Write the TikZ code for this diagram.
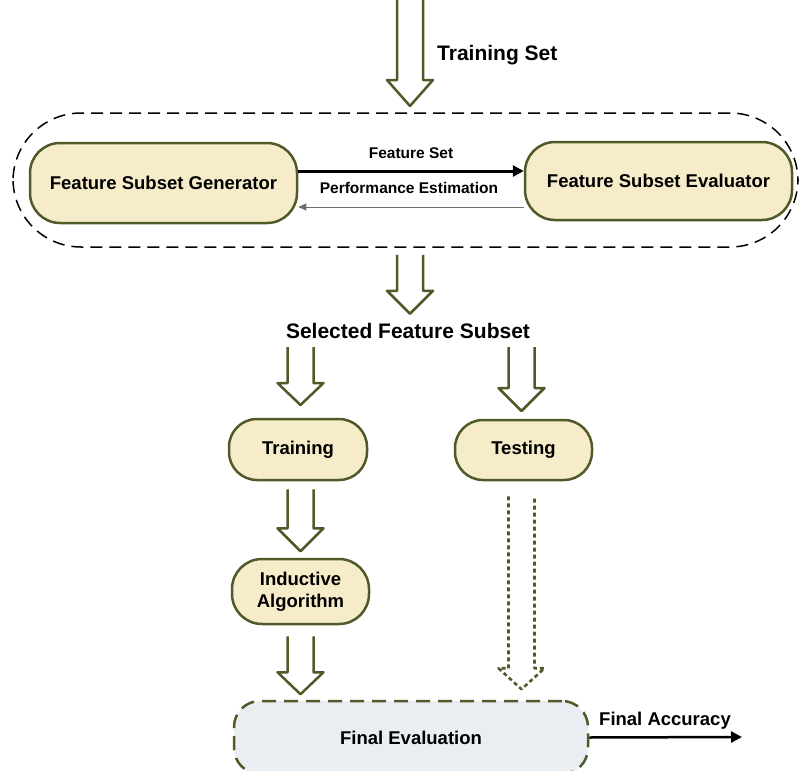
\documentclass[tikz,border=0pt]{standalone}
\usepackage{fontspec}
\setmainfont{Liberation Sans}
\usetikzlibrary{calc,arrows.meta}
\definecolor{oliveline}{HTML}{505A28}
\definecolor{boxfill}{HTML}{F7ECC9}
\definecolor{evalfill}{HTML}{E9EEF3}
\definecolor{perfgray}{HTML}{6E6E6E}
\tikzset{
  box/.style={draw=oliveline, line width=2.5pt, fill=boxfill, rounded corners=#1,
    font=\fontsize{18.5}{22}\selectfont\bfseries, align=center, inner sep=0pt},
  box/.default=30pt,
  container/.style={draw=black, line width=1.5pt, dash pattern=on 12pt off 7pt, rounded corners=68pt, inner sep=0pt},
  evalbox/.style={draw=oliveline, line width=2.5pt, fill=evalfill, dash pattern=on 14pt off 8pt,
    rounded corners=26pt, font=\fontsize{18.5}{22}\selectfont\bfseries, inner sep=0pt},
  biglabel/.style={font=\fontsize{21}{24}\selectfont\bfseries, inner sep=0pt},
  smalllabel/.style={font=\fontsize{15.5}{18}\selectfont\bfseries, inner sep=0pt},
  midlabel/.style={font=\fontsize{18.5}{22}\selectfont\bfseries, inner sep=0pt},
  harrowline/.style={draw=oliveline, line width=2.5pt, line join=round},
  hdotline/.style={draw=oliveline, line width=2.6pt, line join=round, dash pattern=on 4pt off 3pt},
  pics/harrow/.style n args={3}{code={
    \draw[#3] (-13,0) -- (-13,#1) -- (-23,#1) -- (0,#2) -- (23,#1) -- (13,#1) -- (13,0);
  }},
}
\begin{document}
\begin{tikzpicture}[x=1pt,y=-1pt]
\useasboundingbox (0,0) rectangle (801,771);
\clip (0,0) rectangle (801,771);

% container and feature subset nodes
\node[container, minimum width=785pt, minimum height=134pt] (cont) at (405.5,180) {};
\node[box, minimum width=267pt, minimum height=80pt] (fsg) at (163.5,183) {Feature Subset Generator};
\node[box, minimum width=267pt, minimum height=78pt] (fse) at (658.5,181) {Feature Subset Evaluator};

\coordinate (fsy) at (0,171);
\coordinate (pey) at (0,207);
\draw[line width=3pt, -{Triangle[length=11pt,width=11pt]}] (fsg.east |- fsy) -- (fse.west |- fsy);
\draw[perfgray, line width=1pt, -{Triangle[length=8pt,width=7pt]}] (fse.west |- pey) -- (fsg.east |- pey);
\node[smalllabel, anchor=base] (fslab) at (411,158) {Feature Set};
\node[smalllabel, anchor=base] (pelab) at (409,193) {Performance Estimation};

% top input arrow
\pic at (410,-2) {harrow={82}{108}{harrowline}};
\node[biglabel, anchor=base west] (tslab) at (437,60) {Training Set};

% arrow out of container
\pic at ($(cont.south)+(4.5,7)$) {harrow={36}{59}{harrowline}};
\node[biglabel, anchor=base] (sfs) at (408,338) {Selected Feature Subset};

% training / testing
\node[box=28pt, minimum width=138pt, minimum height=61pt] (train) at (298,449.5) {Training};
\node[box=28pt, minimum width=137pt, minimum height=60pt] (test) at (523.5,450) {Testing};
\node[box=30pt, minimum width=137pt, minimum height=65pt] (ind) at (300.5,591.5) {Inductive\\Algorithm};
\node[evalbox, minimum width=354pt, minimum height=73pt] (final) at (411,737.5) {Final Evaluation};

\pic at (300.5,347) {harrow={36}{58}{harrowline}};
\pic at (521.5,347) {harrow={41}{64}{harrowline}};
\pic at ($(train.south)+(2.5,8)$) {harrow={39}{62}{harrowline}};
\pic at ($(ind.south)+(0,11)$) {harrow={36}{58}{harrowline}};
\pic at ($(test.south)+(-2,15)$) {harrow={172}{193}{hdotline}};

% final accuracy
\coordinate (faend) at (742,737);
\draw[line width=2.5pt, -{Triangle[length=11pt,width=11pt]}] (final.east) -- (faend);
\node[midlabel, anchor=base west] (falab) at (599,725) {Final Accuracy};
\end{tikzpicture}
\end{document}
